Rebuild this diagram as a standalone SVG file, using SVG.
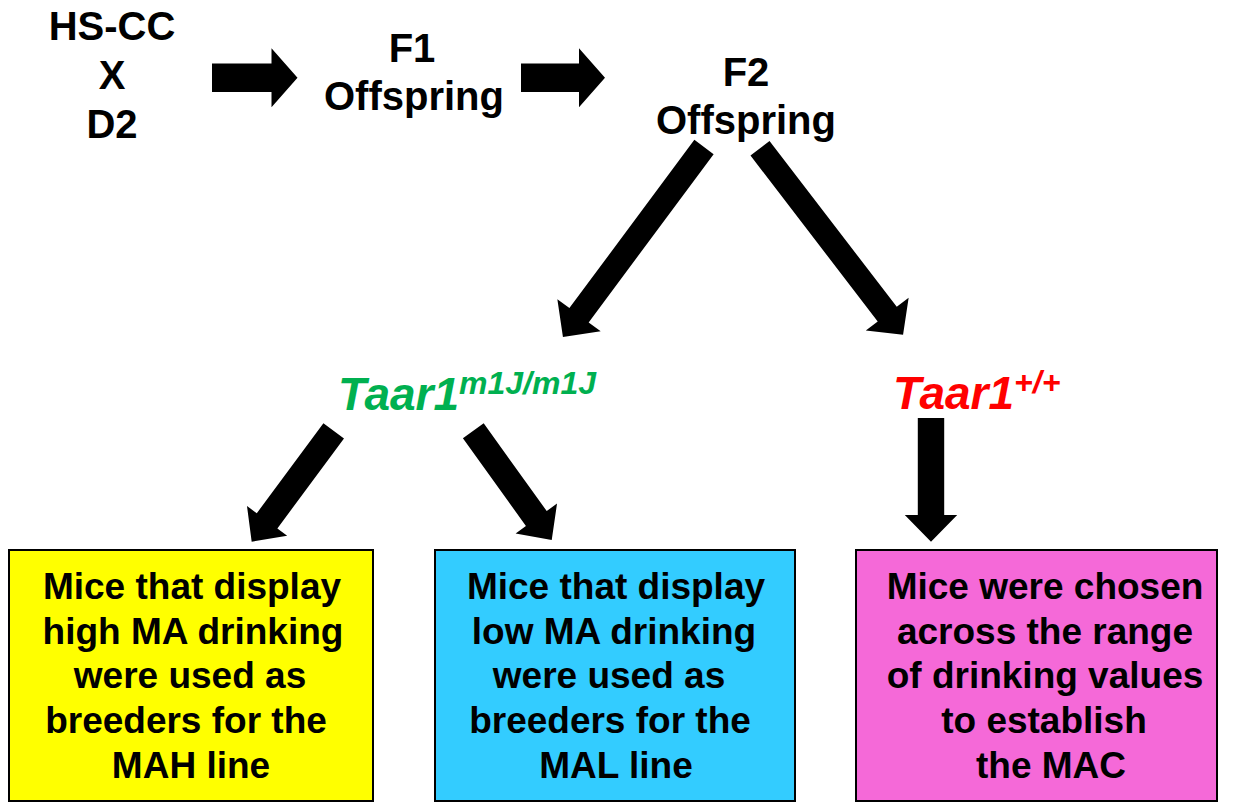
<svg xmlns="http://www.w3.org/2000/svg" width="1250" height="804" viewBox="0 0 1250 804">
<style>
text{font-family:"Liberation Sans",Arial,sans-serif;font-weight:bold;text-anchor:middle;fill:#000}
.top{font-size:40px}
.box{font-size:37px}
.gene{font-size:46px;font-style:italic;text-anchor:start}
.sup{font-size:32px}
.arrow{fill:#000}
.frame{stroke:#000;stroke-width:2}
</style>
<rect width="1250" height="804" fill="#fff"/>
<g id="node-parents">
<text class="top" x="112" y="40">HS-CC</text>
<text class="top" x="112" y="89">X</text>
<text class="top" x="112" y="138">D2</text>
</g>
<g id="node-f1">
<text class="top" x="412" y="62">F1</text>
<text class="top" x="414" y="110">Offspring</text>
</g>
<g id="node-f2">
<text class="top" x="746" y="86">F2</text>
<text class="top" x="746" y="134">Offspring</text>
</g>
<g id="node-taar1-m1j">
<text class="gene" x="338" y="410" style="fill:#00B050">Taar1<tspan class="sup" dy="-16">m1J/m1J</tspan></text>
</g>
<g id="node-taar1-wt">
<text class="gene" x="893" y="409" style="fill:#FF0000">Taar1<tspan class="sup" dy="-16">+/+</tspan></text>
</g>
<g id="node-mah">
<rect class="frame" x="9" y="550" width="364" height="251" fill="#FFFF00"/>
<text class="box" x="192" y="599">Mice that display</text>
<text class="box" x="193" y="644">high MA drinking</text>
<text class="box" x="190" y="688">were used as</text>
<text class="box" x="186" y="733">breeders for the</text>
<text class="box" x="191" y="778">MAH line</text>
</g>
<g id="node-mal">
<rect class="frame" x="435" y="550" width="360" height="251" fill="#33CCFF"/>
<text class="box" x="616" y="599">Mice that display</text>
<text class="box" x="614" y="644">low MA drinking</text>
<text class="box" x="609" y="688">were used as</text>
<text class="box" x="610" y="733">breeders for the</text>
<text class="box" x="616" y="778">MAL line</text>
</g>
<g id="node-mac">
<rect class="frame" x="856" y="550" width="361" height="251" fill="#F569D8"/>
<text class="box" x="1045" y="599">Mice were chosen</text>
<text class="box" x="1045" y="644">across the range</text>
<text class="box" x="1045" y="688">of drinking values</text>
<text class="box" x="1044" y="733">to establish</text>
<text class="box" x="1051" y="778">the MAC</text>
</g>
<g id="connectors">
<polygon class="arrow" transform="translate(212,77.7)" points="0,-14.2 59.5,-14.2 59.5,-29.5 85.5,0 59.5,29.5 59.5,14.2 0,14.2"/>
<polygon class="arrow" transform="translate(521,77.7)" points="0,-14.2 58,-14.2 58,-29.5 84,0 58,29.5 58,14.2 0,14.2"/>
<polygon class="arrow" transform="translate(704,147) rotate(126.6)" points="0,-12 209.6,-12 209.6,-27 236.6,0 209.6,27 209.6,12 0,12"/>
<polygon class="arrow" transform="translate(760,148.3) rotate(52.5)" points="0,-12 209,-12 209,-27 235,0 209,27 209,12 0,12"/>
<polygon class="arrow" transform="translate(333.7,430.8) rotate(126.5)" points="0,-12.8 112,-12.8 112,-25 137.9,0 112,25 112,12.8 0,12.8"/>
<polygon class="arrow" transform="translate(473.3,430.8) rotate(54.3)" points="0,-12.8 108,-12.8 108,-25.5 134.4,0 108,25.5 108,12.8 0,12.8"/>
<polygon class="arrow" transform="translate(931,418)" points="-13.2,0 -13.2,97 -26.2,97 0,123.7 26.2,97 13.2,97 13.2,0"/>
</g>
</svg>
